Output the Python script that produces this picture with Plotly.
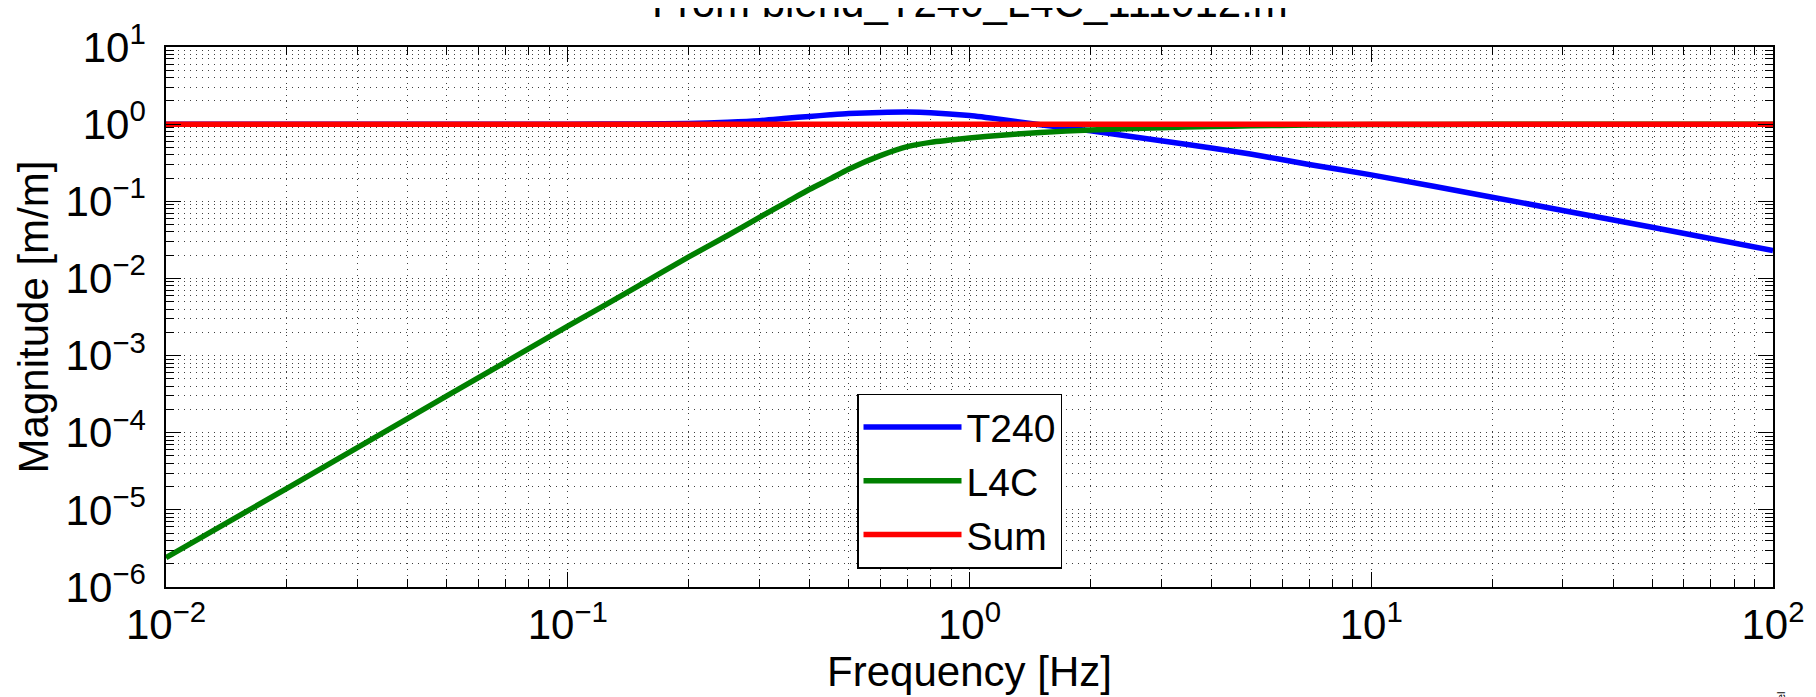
import plotly.graph_objects as go

# ---- data ----
freq = [0.01, 0.02, 0.05, 0.1, 0.15, 0.2, 0.25, 0.3, 0.35, 0.4, 0.45, 0.5, 0.6, 0.7, 0.8,
        1.0, 1.2, 1.5, 2, 3, 4, 5, 7, 10, 20, 50, 100]
t240 = [1.0, 1.0, 1.0, 1.0, 1.005, 1.02, 1.06, 1.11, 1.19, 1.26, 1.32, 1.37, 1.42, 1.435, 1.41,
        1.29, 1.15, 0.98, 0.82, 0.61, 0.49, 0.41, 0.30, 0.22, 0.113, 0.046, 0.023]
l4c = [2.4e-6, 1.9e-5, 3.0e-4, 2.4e-3, 8.0e-3, 0.019, 0.036, 0.062, 0.097, 0.143, 0.195, 0.26, 0.39, 0.51, 0.58,
       0.66, 0.72, 0.78, 0.84, 0.9, 0.93, 0.95, 0.972, 0.986, 0.996, 0.999, 1.0]
sumv = [1.0] * len(freq)

x_tickvals = [1e-2, 1e-1, 1e0, 1e1, 1e2]
x_ticktext = ["10<sup>−2</sup>", "10<sup>−1</sup>", "10<sup>0</sup>", "10<sup>1</sup>", "10<sup>2</sup>"]
y_tickvals = [1e-6, 1e-5, 1e-4, 1e-3, 1e-2, 1e-1, 1e0, 1e1]
y_ticktext = ["10<sup>−6</sup>", "10<sup>−5</sup>", "10<sup>−4</sup>", "10<sup>−3</sup>",
              "10<sup>−2</sup>", "10<sup>−1</sup>", "10<sup>0</sup>", "10<sup>1</sup>"]

title_text = "From blend_T240_L4C_111012.m"

x_minor = [m * 10.0 ** e for e in range(-2, 2) for m in range(2, 10)]
y_minor = [m * 10.0 ** e for e in range(-6, 1) for m in range(2, 10)]

FONT = "Liberation Sans, Arial, Helvetica, sans-serif"
FS = 42

fig = go.Figure()
fig.add_trace(go.Scatter(x=freq, y=t240, mode="lines", name="T240",
                         line=dict(color="rgb(0,0,255)", width=5.5, shape="spline", smoothing=0.6)))
fig.add_trace(go.Scatter(x=freq, y=l4c, mode="lines", name="L4C",
                         line=dict(color="rgb(0,128,0)", width=5.5, shape="spline", smoothing=0.6)))
fig.add_trace(go.Scatter(x=freq, y=sumv, mode="lines", name="Sum",
                         line=dict(color="rgb(255,0,0)", width=5.5)))

grid = dict(showgrid=True, gridcolor="rgba(0,0,0,0.75)", gridwidth=1, griddash="1px,5px")

fig.update_xaxes(type="log", range=[-2, 2], tickmode="array", tickvals=x_tickvals, ticktext=x_ticktext,
                 ticks="inside", ticklen=15, tickwidth=1.2, tickcolor="black",
                 showline=True, linecolor="black", linewidth=1.5, mirror="allticks",
                 zeroline=False, tickfont=dict(family=FONT, size=FS, color="black"),
                 title=dict(text="Frequency [Hz]", font=dict(family=FONT, size=FS, color="black"), standoff=8),
                 minor=dict(tickmode="array", tickvals=x_minor, ticks="inside", ticklen=8,
                            tickcolor="black", tickwidth=1, **grid),
                 **grid)
fig.update_yaxes(type="log", range=[-6, 1], tickmode="array", tickvals=y_tickvals, ticktext=y_ticktext,
                 ticks="inside", ticklen=15, tickwidth=1.2, tickcolor="black",
                 showline=True, linecolor="black", linewidth=1.5, mirror="allticks",
                 zeroline=False, tickfont=dict(family=FONT, size=FS, color="black"),
                 ticklabelstandoff=10,
                 title=dict(text="Magnitude [m/m]", font=dict(family=FONT, size=FS, color="black"), standoff=4),
                 minor=dict(tickmode="array", tickvals=y_minor, ticks="inside", ticklen=8,
                            tickcolor="black", tickwidth=1, **grid),
                 **grid)

fig.update_layout(
    width=1816, height=697,
    margin=dict(l=158, r=51, t=39, b=118, autoexpand=False),
    paper_bgcolor="white", plot_bgcolor="white",
    font=dict(family=FONT, size=FS, color="black"),
    showlegend=True,
    legend=dict(x=0.43, y=0.034, xanchor="left", yanchor="bottom",
                bgcolor="white", bordercolor="black", borderwidth=1.5,
                font=dict(family=FONT, size=39, color="black"),
                itemwidth=98),
    annotations=[
        dict(text=title_text, xref="paper", yref="paper", x=0.5, y=1.036,
             xanchor="center", yanchor="bottom", showarrow=False,
             font=dict(family=FONT, size=FS, color="black")),
        dict(text="el", xref="paper", yref="paper", x=1.005, y=-0.202,
             xanchor="center", yanchor="middle", showarrow=False, textangle=-90,
             font=dict(family=FONT, size=11, color="black")),
    ],
)

fig.write_html("out.html")
